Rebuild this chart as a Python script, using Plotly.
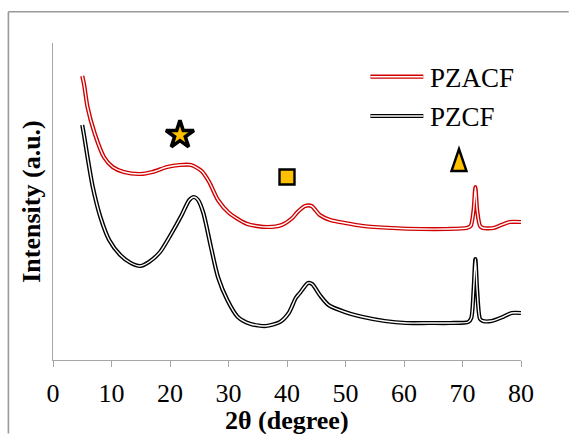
import plotly.graph_objects as go

# XRD patterns (arbitrary intensity units, offset for clarity)
two_theta_pzacf = [5.0, 5.3, 5.9, 7.1, 8.7, 10.2, 12.1, 14.9, 17.0, 19.5, 21.7, 23.6, 25.4, 26.7,
                   28.2, 30.1, 33.2, 36.6, 39.1, 40.9, 41.8, 43.1, 44.2, 45.6, 47.4, 49.9,
                   53.0, 58.0, 62.9, 67.3, 70.7, 71.4, 71.9, 72.2, 72.5, 73.0, 73.5, 75.3,
                   76.6, 78.1, 80.0]
intensity_pzacf = [284, 276, 253, 227, 203, 193, 188, 186, 188, 193, 195, 195, 189, 178,
                   160, 147, 136, 133, 135, 142, 148, 154, 154, 145, 140, 137,
                   134, 132, 131, 131, 132, 134, 150, 173, 150, 134, 132, 132,
                   135, 138, 138]

two_theta_pzcf = [5.0, 5.3, 5.9, 6.8, 8.1, 9.6, 11.5, 13.3, 14.9, 16.4, 18.3, 20.1, 22.0, 23.3,
                  24.1, 24.8, 25.7, 27.0, 28.2, 29.8, 31.6, 33.8, 36.4, 38.8, 40.3, 41.5,
                  42.2, 43.6, 44.3, 45.6, 47.1, 49.9, 53.0, 56.7, 60.4, 64.2, 67.9, 71.0,
                  71.5, 71.9, 72.2, 72.5, 73.0, 73.5, 75.0, 76.9, 78.4, 80.0]
intensity_pzcf = [235, 225, 203, 173, 143, 120, 105, 97, 94, 98, 108, 125, 145, 160,
                  163, 160, 147, 113, 83, 60, 43, 36, 34, 38, 47, 62,
                  67, 77, 76, 65, 55, 48, 43, 39, 37, 37, 37, 38,
                  42, 70, 101, 70, 41, 39, 39, 43, 47, 47]

series_names = ["PZACF", "PZCF"]
series_colors = ["#d00000", "#000000"]

# phase indicator symbols placed above the reflections
phase_theta = [21.7, 40.0, 69.4]
phase_level = [225, 183, 200]

x_ticks = [0, 10, 20, 30, 40, 50, 60, 70, 80]

FONT = "Liberation Serif, Times New Roman, serif"
AXIS_GREY = "#a6a6a6"
GOLD = "#ffc000"

fig = go.Figure()

curves = [
    (two_theta_pzacf, intensity_pzacf, series_names[0], series_colors[0]),
    (two_theta_pzcf, intensity_pzcf, series_names[1], series_colors[1]),
]
for xs, ys, name, color in curves:
    # double-line look: a thick coloured stroke with a thin white core
    fig.add_trace(go.Scatter(x=xs, y=ys, mode="lines", name=name, showlegend=False,
                             line=dict(color=color, width=4.2, shape="spline", smoothing=0.7)))
    fig.add_trace(go.Scatter(x=xs, y=ys, mode="lines", showlegend=False, hoverinfo="skip",
                             line=dict(color="white", width=1.4, shape="spline", smoothing=0.7)))

# star and square phase markers
fig.add_trace(go.Scatter(
    x=phase_theta[:1], y=phase_level[:1], mode="markers", showlegend=False,
    marker=dict(symbol="star", size=21, color=GOLD, opacity=1,
                line=dict(color="black", width=3.6))))
fig.add_trace(go.Scatter(
    x=phase_theta[1:2], y=phase_level[1:2], mode="markers", showlegend=False,
    marker=dict(symbol="square", size=15, color=GOLD, opacity=1,
                line=dict(color="black", width=2.4))))

# tall triangle marker, drawn in pixel units around its data anchor
tri_path = "M0,11 L7.5,-11 L-7.5,-11 Z"
shapes = [dict(type="path", xref="x", yref="y", xsizemode="pixel", ysizemode="pixel",
               xanchor=phase_theta[2], yanchor=phase_level[2], path=tri_path,
               fillcolor=GOLD, line=dict(color="black", width=2.4))]

# outer chart border (only its top and left edges fall inside the page)
shapes.append(dict(type="line", xref="paper", yref="paper",
                   x0=-0.0953, x1=1.102, y0=1.0987, y1=1.0987,
                   line=dict(color="#999999", width=1.6)))
shapes.append(dict(type="line", xref="paper", yref="paper",
                   x0=-0.0953, x1=-0.0953, y0=-0.232, y1=1.0987,
                   line=dict(color="#999999", width=1.6)))

# legend samples
legend_y = [0.8937, 0.7697]
for name, color, ly in zip(series_names, series_colors, legend_y):
    shapes.append(dict(type="line", xref="paper", yref="paper", x0=0.6782, x1=0.7913,
                       y0=ly, y1=ly, line=dict(color=color, width=4.2)))
    shapes.append(dict(type="line", xref="paper", yref="paper", x0=0.6782, x1=0.7913,
                       y0=ly, y1=ly, line=dict(color="white", width=1.4)))

annotations = [dict(text=name, xref="paper", yref="paper", x=0.8009, y=ly - 0.004,
                    xanchor="left", yanchor="middle", showarrow=False,
                    font=dict(family=FONT, size=27, color="black"))
               for name, ly in zip(series_names, legend_y)]

# x-axis title, placed under the tick labels
annotations.append(dict(text="<b>2θ (degree)</b>", xref="paper", yref="paper",
                        x=0.5, y=-0.19, xanchor="center", yanchor="middle",
                        showarrow=False, font=dict(family=FONT, size=26, color="black")))

fig.update_layout(
    width=569, height=434,
    margin=dict(l=52.6, r=48.3, t=43, b=74, autoexpand=False),
    paper_bgcolor="white", plot_bgcolor="white",
    showlegend=False,
    shapes=shapes, annotations=annotations,
    font=dict(family=FONT, color="black"),
    xaxis=dict(range=[0, 80], tickvals=x_ticks, ticks="outside", ticklen=6,
               tickcolor=AXIS_GREY, tickwidth=1.3, showline=True, linecolor=AXIS_GREY,
               linewidth=1.3, showgrid=False, zeroline=False, ticklabelstandoff=4,
               automargin=False,
               tickfont=dict(family=FONT, size=26, color="black")),
    yaxis=dict(range=[0, 317], showticklabels=False, ticks="", showline=True,
               linecolor=AXIS_GREY, linewidth=1.3, showgrid=False, zeroline=False,
               automargin=False,
               title=dict(text="<b>Intensity (a.u.)</b>", standoff=3,
                          font=dict(family=FONT, size=26, color="black"))),
)

# keep the page itself from showing scrollbars
fig.write_html("out.html",
               post_script="document.documentElement.style.overflow='hidden';"
                           "document.body.style.overflow='hidden';"
                           "document.body.style.margin='0';")
